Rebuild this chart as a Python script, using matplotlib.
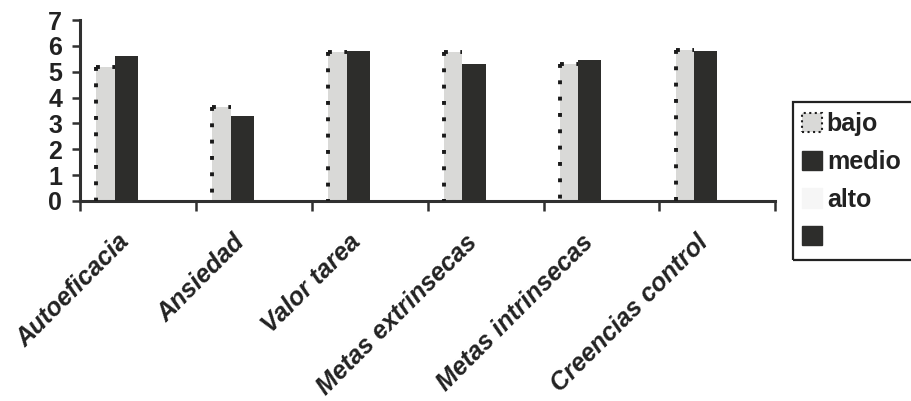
import numpy as np
import matplotlib.pyplot as plt
from matplotlib.patches import Patch, Rectangle
from matplotlib.transforms import ScaledTranslation

# datos
categorias = ['Autoeficacia', 'Ansiedad', 'Valor tarea', 'Metas extrinsecas',
              'Metas intrinsecas', 'Creencias control']
bajo = [5.2, 3.65, 5.75, 5.75, 5.3, 5.85]
medio = [5.6, 3.3, 5.8, 5.3, 5.45, 5.8]
alto = [0, 0, 0, 0, 0, 0]

plt.rcParams['font.family'] = ['Liberation Sans', 'DejaVu Sans']

claro = '#d9d9d7'
oscuro = '#2d2d2b'
linea = '#303030'
texto = '#222222'

fig = plt.figure(figsize=(9.11, 4.01), dpi=100)
ax = fig.add_axes([0.088, 0.499, 0.763, 0.451])

x = np.arange(len(categorias))
w_bajo = 0.16
w_medio = 0.20
x_bajo = x - 0.28
x_medio = x - 0.10

# barras
ax.bar(x_bajo, bajo, w_bajo, color=claro, linewidth=0, zorder=2)
ax.bar(x_medio, medio, w_medio, color=oscuro, linewidth=0, zorder=3)
ax.bar(x + 0.10, alto, w_medio, color='white', linewidth=0, zorder=1)

# borde punteado (izquierda y arriba) de las barras "bajo"
punteado = dict(color='#1a1a1a', linewidth=2.8, linestyle=(0, (1, 3.2)),
                solid_capstyle='butt', dash_capstyle='butt', zorder=4)
for xb, h in zip(x_bajo, bajo):
    izq = xb - w_bajo / 2
    der = xb + w_bajo / 2
    ax.plot([izq, izq], [h, 0], **punteado)
    ax.plot([izq, der], [h, h], **punteado)

ax.set_xlim(-0.5, len(categorias) - 0.5)
ax.set_ylim(0, 7)
ax.set_yticks(range(0, 8))
ax.set_yticklabels([str(v) for v in range(0, 8)], fontsize=18, fontweight='bold',
                   color=texto)

ax.set_xticks(np.arange(-0.5, len(categorias), 1.0))
ax.set_xticklabels([])
ax.set_xticks(x, minor=True)
ax.set_xticklabels(categorias, minor=True, rotation=45, ha='right', va='center',
                   rotation_mode='anchor', fontsize=18, fontweight='bold',
                   fontstyle='italic', color=texto)
ax.tick_params(axis='x', which='minor', length=0, pad=27)
ax.tick_params(axis='x', which='major', length=7, width=1.8, color=linea)
ax.tick_params(axis='y', length=6, width=1.8, color=linea, pad=7)

# desplazar etiquetas un poco a la izquierda
desp = ScaledTranslation(-9 / 72, 0, fig.dpi_scale_trans)
for lab in ax.get_xticklabels(minor=True):
    lab.set_transform(lab.get_transform() + desp)

for s in ['top', 'right']:
    ax.spines[s].set_visible(False)
for s in ['left', 'bottom']:
    ax.spines[s].set_linewidth(2.2)
    ax.spines[s].set_color(linea)

# leyenda (el marco se sale por la derecha, como en el original)
handles = [Patch(facecolor=claro, edgecolor='#1e1e1e', linestyle=':', linewidth=1.5),
           Patch(facecolor=oscuro, edgecolor=oscuro),
           Patch(facecolor='#f6f6f6', edgecolor='#f6f6f6'),
           Patch(facecolor=oscuro, edgecolor=oscuro)]
labels = ['bajo', 'medio', 'alto', '']
leg = fig.legend(handles, labels, loc='upper left', bbox_to_anchor=(0.8705, 0.742),
                 frameon=False, prop={'weight': 'bold', 'size': 18},
                 handlelength=0.8, handleheight=0.8, handletextpad=0.2,
                 labelspacing=0.55, borderpad=0.35, borderaxespad=0)
for t in leg.get_texts():
    t.set_color(texto)
fig.patches.append(Rectangle((0.8705, 0.3516), 0.16, 0.394, transform=fig.transFigure,
                             fill=False, edgecolor=texto, linewidth=1.6))

fig.savefig('out.png', dpi=100, facecolor='white')
